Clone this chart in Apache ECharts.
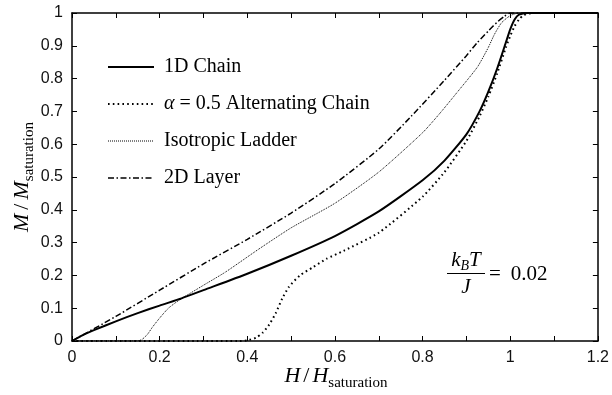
<!DOCTYPE html>
<html>
<head>
<meta charset="utf-8">
<script src="https://cdn.jsdelivr.net/npm/echarts@6/dist/echarts.min.js"></script>
<style>
  html, body { margin: 0; padding: 0; background: #fff; }
  #chart { width: 612px; height: 395px; }
</style>
</head>
<body>
<div id="chart"></div>
<script>
// Magnetization curves M/Msat versus H/Hsat at kBT/J = 0.02
const chainH = [0, 0.02, 0.05, 0.1, 0.15, 0.2, 0.25, 0.3, 0.4, 0.5, 0.6, 0.7, 0.8, 0.85, 0.9, 0.93, 0.95, 0.97, 0.99, 1.0, 1.01, 1.02, 1.04, 1.2];
const chainM = [0, 0.015, 0.033, 0.06, 0.085, 0.108, 0.13, 0.155, 0.205, 0.26, 0.32, 0.395, 0.49, 0.55, 0.63, 0.7, 0.76, 0.83, 0.91, 0.95, 0.98, 0.995, 1, 1];

const altH = [0, 0.38, 0.40, 0.42, 0.435, 0.45, 0.465, 0.48, 0.495, 0.52, 0.55, 0.58, 0.62, 0.7, 0.8, 0.85, 0.9, 0.93, 0.95, 0.97, 0.99, 1.0, 1.01, 1.02, 1.03, 1.05, 1.2];
const altM = [0, 0, 0.002, 0.01, 0.025, 0.05, 0.085, 0.13, 0.165, 0.2, 0.225, 0.25, 0.275, 0.33, 0.44, 0.515, 0.61, 0.685, 0.745, 0.815, 0.895, 0.93, 0.96, 0.98, 0.993, 1, 1];

const ladderH = [0, 0.15, 0.16, 0.172, 0.184, 0.2, 0.22, 0.245, 0.3, 0.35, 0.426, 0.5, 0.6, 0.7, 0.8, 0.84, 0.88, 0.925, 0.95, 0.964, 0.98, 1.0, 1.02, 1.2];
const ladderM = [0, 0, 0.005, 0.02, 0.043, 0.07, 0.1, 0.125, 0.17, 0.21, 0.28, 0.345, 0.42, 0.515, 0.635, 0.695, 0.76, 0.835, 0.895, 0.935, 0.97, 0.992, 1, 1];

const layerH = [0, 0.1, 0.2, 0.3, 0.4, 0.5, 0.6, 0.7, 0.774, 0.85, 0.9, 0.925, 0.95, 0.97, 0.987, 1.0, 1.2];
const layerM = [0, 0.075, 0.155, 0.235, 0.31, 0.39, 0.48, 0.585, 0.685, 0.795, 0.87, 0.91, 0.945, 0.972, 0.99, 1.0, 1.0];

const seriesNames = ['1D Chain', 'α = 0.5 Alternating Chain', 'Isotropic Ladder', '2D Layer'];
const xTicks = ['0', '0.2', '0.4', '0.6', '0.8', '1', '1.2'];
const yTicks = ['0', '0.1', '0.2', '0.3', '0.4', '0.5', '0.6', '0.7', '0.8', '0.9', '1'];

const SERIF = '"Liberation Serif", "DejaVu Serif", serif';
const SANS = '"Liberation Sans", Arial, sans-serif';

function pairs(xs, ys) { return xs.map((x, i) => [x, ys[i]]); }

// text measuring for composing math-style labels out of pieces
const measureCtx = document.createElement('canvas').getContext('2d');
function fontOf(size, italic) { return (italic ? 'italic ' : '') + size + 'px ' + SERIF; }
function textWidth(t, size, italic) {
  measureCtx.font = fontOf(size, italic);
  return measureCtx.measureText(t).width;
}
// lay out a run of pieces horizontally in local coordinates, alphabetic baseline at y = 0
function runPieces(pieces, x0) {
  let x = x0;
  const out = [];
  pieces.forEach(p => {
    const baseline = p.dy || 0;
    out.push({
      type: 'text', x: x, y: baseline - 0.3 * p.size, silent: true,
      style: { text: p.t, fill: '#000', font: fontOf(p.size, p.italic), verticalAlign: 'middle', align: 'left' }
    });
    x += textWidth(p.t, p.size, p.italic) + (p.gap || 0);
  });
  return { els: out, width: x - x0 };
}

const chart = echarts.init(document.getElementById('chart'), null, { renderer: 'canvas' });

const gridBox = { left: 72, right: 11, top: 13, bottom: 54 };

function axisCommon() {
  return {
    axisLine: { show: true, onZero: false, lineStyle: { color: '#000', width: 1.5 } },
    axisTick: { show: true, inside: true, length: 5, lineStyle: { color: '#000', width: 1 } },
    splitLine: { show: false }
  };
}

const xTitle = runPieces([
  { t: 'H', size: 22, italic: true, gap: 3 },
  { t: '/', size: 22, gap: 3 },
  { t: 'H', size: 22, italic: true, gap: 0 },
  { t: 'saturation', size: 15, dy: 5 }
], 0);
const yTitle = runPieces([
  { t: 'M', size: 22, italic: true, gap: 4 },
  { t: '/', size: 22, gap: 4 },
  { t: 'M', size: 22, italic: true, gap: 0 },
  { t: 'saturation', size: 15, dy: 5 }
], 0);

const numTop = runPieces([
  { t: 'k', size: 21, italic: true },
  { t: 'B', size: 14, italic: true, dy: 4 },
  { t: 'T', size: 21, italic: true }
], 0);
const eqRun = runPieces([{ t: '=', size: 21, gap: 10 }, { t: '0.02', size: 21 }], 0);
const jRun = runPieces([{ t: 'J', size: 21, italic: true }], 0);

const smoothing = 0.2;

const option = {
  animation: false,
  backgroundColor: '#fff',
  grid: { left: gridBox.left, right: gridBox.right, top: gridBox.top, bottom: gridBox.bottom, containLabel: false },
  xAxis: [
    Object.assign(axisCommon(), {
      type: 'value', min: 0, max: 1.2, interval: 0.2, position: 'bottom',
      minorTick: { show: true, splitNumber: 2, length: 5, lineStyle: { color: '#000', width: 1 } },
      axisLabel: {
        margin: 9, color: '#111', fontFamily: SANS, fontSize: 16,
        formatter: v => xTicks[Math.round(v / 0.2)]
      }
    }),
    Object.assign(axisCommon(), {
      type: 'value', min: 0, max: 1.2, interval: 0.1, position: 'top',
      axisLabel: { show: false }
    })
  ],
  yAxis: [
    Object.assign(axisCommon(), {
      type: 'value', min: 0, max: 1, interval: 0.1, position: 'left',
      axisLabel: {
        margin: 9, color: '#111', fontFamily: SANS, fontSize: 16,
        formatter: v => yTicks[Math.round(v * 10)]
      }
    }),
    Object.assign(axisCommon(), {
      type: 'value', min: 0, max: 1, interval: 0.1, position: 'right',
      axisLabel: { show: false }
    })
  ],
  legend: {
    orient: 'vertical', left: 102, top: 52,
    itemWidth: 46, itemHeight: 20, itemGap: 17,
    data: seriesNames,
    textStyle: {
      fontFamily: SERIF, fontSize: 20, color: '#000', lineHeight: 20, padding: [0, 0, 0, 5],
      rich: { a: { fontFamily: SERIF, fontSize: 20, fontStyle: 'italic', color: '#000' } }
    },
    formatter: name => name.replace('α', '{a|α}'),
    itemStyle: { opacity: 0 },
    lineStyle: { width: 'inherit', type: 'inherit', color: 'inherit' }
  },
  series: [
    {
      name: seriesNames[0], type: 'line', data: pairs(chainH, chainM),
      smooth: smoothing, symbol: 'none', itemStyle: { color: '#000' },
      lineStyle: { color: '#000', width: 2, type: 'solid' }
    },
    {
      name: seriesNames[1], type: 'line', data: pairs(altH, altM),
      smooth: smoothing, symbol: 'none', itemStyle: { color: '#000' },
      lineStyle: { color: '#000', width: 2, type: [1.6, 3.2] }
    },
    {
      name: seriesNames[2], type: 'line', data: pairs(ladderH, ladderM),
      smooth: smoothing, symbol: 'none', itemStyle: { color: '#000' },
      lineStyle: { color: '#000', width: 1, type: [1, 1] }
    },
    {
      name: seriesNames[3], type: 'line', data: pairs(layerH, layerM),
      smooth: smoothing, symbol: 'none', itemStyle: { color: '#000' },
      lineStyle: { color: '#000', width: 1.5, type: [6, 2.5, 1.5, 2.5] }
    }
  ],
  graphic: [
    // horizontal axis title
    { type: 'group', x: 336 - xTitle.width / 2, y: 383, children: xTitle.els },
    // vertical axis title, reads bottom to top
    { type: 'group', x: 29, y: 177 + yTitle.width / 2, rotation: Math.PI / 2, children: yTitle.els },
    // temperature annotation as a fraction
    { type: 'group', x: 466 - numTop.width / 2, y: 267, children: numTop.els },
    { type: 'line', shape: { x1: 447, y1: 273.5, x2: 485, y2: 273.5 }, style: { stroke: '#000', lineWidth: 1 } },
    { type: 'group', x: 466 - jRun.width / 2, y: 294, children: jRun.els },
    { type: 'group', x: 489, y: 281, children: eqRun.els }
  ]
};

chart.setOption(option);
</script>
</body>
</html>
